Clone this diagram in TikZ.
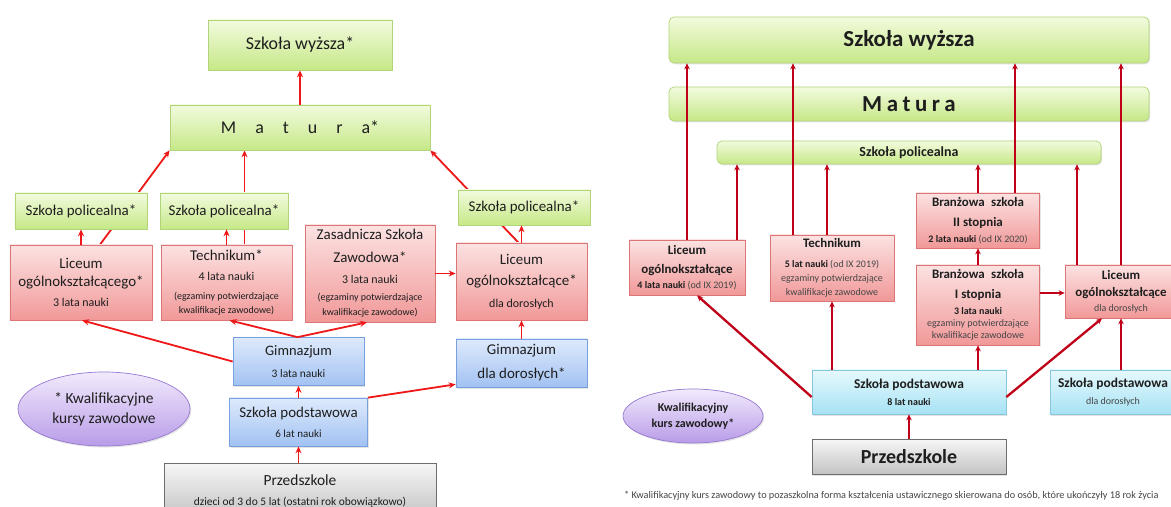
\documentclass[tikz,border=0pt]{standalone}
\usepackage{fontspec}
\setmainfont{Carlito}
\usetikzlibrary{arrows.meta,shapes.geometric,backgrounds,shadows}
\definecolor{txt}{RGB}{30,30,30}
\definecolor{sub}{RGB}{70,70,70}
\definecolor{gT}{RGB}{242,251,222}
\definecolor{gB}{RGB}{198,232,135}
\definecolor{gD}{RGB}{178,212,120}
\definecolor{pT}{RGB}{252,226,226}
\definecolor{pB}{RGB}{241,152,152}
\definecolor{pD}{RGB}{220,118,118}
\definecolor{bT}{RGB}{222,234,252}
\definecolor{bB}{RGB}{162,194,242}
\definecolor{bD}{RGB}{120,160,222}
\definecolor{cT}{RGB}{230,249,253}
\definecolor{cB}{RGB}{166,226,244}
\definecolor{cD}{RGB}{136,198,222}
\definecolor{yT}{RGB}{246,246,246}
\definecolor{yB}{RGB}{194,194,194}
\definecolor{yD}{RGB}{110,110,110}
\definecolor{vT}{RGB}{242,234,252}
\definecolor{vB}{RGB}{184,156,232}
\definecolor{vD}{RGB}{150,120,210}
\definecolor{lred}{RGB}{238,24,24}
\definecolor{rred}{RGB}{192,0,24}
\newcommand\mylsp{\hspace{19bp}}
\newcommand\myrsp{\hspace{4.5bp}}
\newcommand\fz[2]{\fontsize{#1}{#2}\selectfont}
\begin{document}
\begin{tikzpicture}[x=1bp,y=-1bp,
  bx/.style={draw, rectangle, inner sep=1bp, align=center, text=txt, line width=0.7bp,
    drop shadow={opacity=0.22,shadow xshift=1.2bp,shadow yshift=-1.5bp}},
  lg/.style={bx, draw=gD, top color=gT, bottom color=gB},
  rg/.style={lg, rounded corners=5bp},
  pk/.style={bx, draw=pD, top color=pT, bottom color=pB},
  bl/.style={bx, draw=bD, top color=bT, bottom color=bB},
  cy/.style={bx, draw=cD, top color=cT, bottom color=cB},
  gy/.style={bx, draw=yD, top color=yT, bottom color=yB},
  el/.style={ellipse, draw=vD, top color=vT, bottom color=vB, inner sep=0, align=center,
    text=txt, line width=0.7bp, drop shadow={opacity=0.22,shadow xshift=1.2bp,shadow yshift=-1.5bp}},
  la/.style={draw=lred, line width=1.8bp, -{Stealth[length=7bp,width=6bp]}},
  ra/.style={draw=rred, line width=2.3bp, -{Stealth[length=6bp,width=5.5bp]}},
]
\useasboundingbox (0,0) rectangle (1171,507);
% ---------------- LEFT ----------------
\node[lg, font=\fz{18}{20}, minimum width=184bp, minimum height=50bp] (lwy) at (300,45) {Szkoła wyższa*};
\node[lg, font=\fz{18}{20}, minimum width=260bp, minimum height=45bp] (lmat) at (300,127.5) {M\mylsp a\mylsp t\mylsp u\mylsp r\mylsp a*};
\node[lg, font=\fz{15}{18}, minimum width=132bp, minimum height=36bp] (lpol1) at (81,211) {Szkoła policealna*};
\node[lg, font=\fz{15}{18}, minimum width=128bp, minimum height=36bp] (lpol2) at (224,211) {Szkoła policealna*};
\node[lg, font=\fz{15}{18}, minimum width=132bp, minimum height=35bp] (lpol3) at (524,207.5) {Szkoła policealna*};
\node[pk, font=\fz{15}{21}, minimum width=142bp, minimum height=75bp] (llic) at (81,282.5) {Liceum\\[-3bp]ogólnokształcącego*\\[-1bp]{\fz{12}{12}3 lata nauki}};
\node[pk, font=\fz{15}{20}, minimum width=131bp, minimum height=75bp] (ltech) at (226.5,282.5) {Technikum*\\{\fz{12}{12}4 lata nauki}\\[-1bp]{\fz{10}{10}(egzaminy potwierdzające}\\[-6bp]{\fz{10}{10}kwalifikacje zawodowe)}};
\node[pk, font=\fz{15}{21}, minimum width=130bp, minimum height=97bp] (lzsz) at (370,273.5) {Zasadnicza Szkoła\\[2bp]Zawodowa*\\{\fz{12}{12}3 lata nauki}\\[-4bp]{\fz{10}{10}(egzaminy potwierdzające}\\[-6bp]{\fz{10}{10}kwalifikacje zawodowe)}};
\node[pk, font=\fz{15}{21}, minimum width=131bp, minimum height=77bp] (llicd) at (521.5,281.5) {Liceum\\ogólnokształcące*\\[1bp]{\fz{12}{12}dla dorosłych}};
\node[bl, font=\fz{14.5}{22}, minimum width=131bp, minimum height=48bp] (lgim) at (298.5,361.5) {Gimnazjum\\{\fz{11.5}{12}3 lata nauki}};
\node[bl, font=\fz{15}{24}, minimum width=131bp, minimum height=48bp] (lgimd) at (521.5,363) {Gimnazjum\\dla dorosłych*};
\node[bl, font=\fz{15}{20}, minimum width=138bp, minimum height=48bp] (lpod) at (298.5,422) {Szkoła podstawowa\\{\fz{11}{12}6 lat nauki}};
\node[gy, font=\fz{15.5}{20}, minimum width=272bp, minimum height=56bp] (lprz) at (300,491) {Przedszkole\\{\fz{11.5}{12}dzieci od 3 do 5 lat (ostatni rok obowiązkowo)}};
\node[el, font=\fz{15.5}{20}, minimum width=172bp, minimum height=74bp] (lell) at (104,409) {* Kwalifikacyjne\\kursy zawodowe};
% left arrows
\draw[la] (lmat.north) -- (lwy.south);
\draw[la] (llic.north) -- (llic.north |- lpol1.south);
\draw[la] (ltech.north) -- (ltech.north |- lpol2.south);
\draw[la] (llicd.north) -- (llicd.north |- lpol3.south);
\coordinate (lz1) at (lzsz.east);
\draw[la] (lz1) -- (lz1 -| llicd.west);
\draw[la] (lgim.west) -- ([xshift=1bp]llic.south);
\draw[la] ([xshift=-1bp]lgim.north) -- ([xshift=3bp]ltech.south);
\draw[la] ([xshift=-1bp]lgim.north) -- ([xshift=-3bp]lzsz.south);
\draw[la] (lgimd.north) -- (llicd.south);
\draw[la] (lpod.north) -- (lgim.south);
\draw[la] (lpod.north east) -- ([yshift=3bp]lgimd.south west);
\draw[la] (lprz.north -| lpod.south) -- (lpod.south);
% ---------------- RIGHT ----------------
\node[rg, font=\bfseries\fz{23}{24}, minimum width=480bp, minimum height=46bp] (rwy) at (909,40) {Szkoła wyższa};
\node[rg, font=\bfseries\fz{23}{24}, minimum width=480bp, minimum height=34bp] (rmat) at (909,104) {M\myrsp a\myrsp t\myrsp u\myrsp r\myrsp a};
\node[rg, font=\bfseries\fz{14}{15}, minimum width=384bp, minimum height=23bp] (rpol) at (909,152.5) {Szkoła policealna};
\node[pk, font=\bfseries\fz{13}{19}, minimum width=116bp, minimum height=55bp] (rlic) at (687,267.5) {Liceum\\ogólnokształcące\\[-4bp]{\fz{10}{10}4 lata nauki {\mdseries\color{sub}(od IX 2019)}}};
\node[pk, font=\bfseries\fz{13}{20}, minimum width=124bp, minimum height=66bp] (rtech) at (832,268) {Technikum\\{\fz{10}{10}5 lat nauki {\mdseries\color{sub}(od IX 2019)}}\\[-6bp]{\mdseries\color{sub}\fz{10}{10}egzaminy potwierdzające}\\[-6bp]{\mdseries\color{sub}\fz{10}{10}kwalifikacje zawodowe}};
\node[pk, font=\bfseries\fz{13}{20}, minimum width=123bp, minimum height=55bp] (rb2) at (978,220.5) {Branżowa\hspace{0.5em}szkoła\\II stopnia\\[-4bp]{\fz{10}{10}2 lata nauki {\mdseries\color{sub}(od IX 2020)}}};
\node[pk, font=\bfseries\fz{13}{20}, minimum width=123bp, minimum height=80bp] (rb1) at (978,305) {Branżowa\hspace{0.5em}szkoła\\I stopnia\\[-4bp]{\fz{10}{10}3 lata nauki}\\[-8bp]{\mdseries\color{sub}\fz{10}{10}egzaminy potwierdzające}\\[-8bp]{\mdseries\color{sub}\fz{10}{10}kwalifikacje zawodowe}};
\node[pk, font=\bfseries\fz{13}{20}, minimum width=112bp, minimum height=53bp] (rlicd) at (1121,291.5) {Liceum\\[-3bp]ogólnokształcące\\[-5bp]{\mdseries\color{sub}\fz{10}{10}dla dorosłych}};
\node[cy, font=\bfseries\fz{13.5}{20}, minimum width=194bp, minimum height=44bp] (rpod) at (909,392) {Szkoła podstawowa\\[-3bp]{\fz{10}{10}8 lat nauki}};
\node[cy, font=\bfseries\fz{13.5}{20}, minimum width=126bp, minimum height=44bp] (rpodd) at (1113,392) {Szkoła podstawowa\\[-3bp]{\mdseries\color{sub}\fz{10}{10}dla dorosłych}};
\node[gy, font=\bfseries\fz{20}{22}, minimum width=194bp, minimum height=35bp] (rprz) at (909,457) {Przedszkole};
\node[el, font=\bfseries\fz{12}{16}, minimum width=140bp, minimum height=54bp] (rell) at (693,416) {Kwalifikacyjny\\kurs zawodowy*};
\node[anchor=west, inner sep=0, text=sub, font=\fz{10.3}{11}] (fn) at (624,496) {* Kwalifikacyjny kurs zawodowy to pozaszkolna forma kształcenia ustawicznego skierowana do osób, które ukończyły 18 rok życia};
% right arrows
\draw[ra] (rlic.north) -- (rlic.north |- rwy.south);
\coordinate (r1) at ([xshift=50bp]rlic.north);
\draw[ra] (r1) -- (r1 |- rpol.south);
\coordinate (r2) at ([xshift=-39bp]rtech.north);
\draw[ra] (r2) -- (r2 |- rwy.south);
\coordinate (r3) at ([xshift=-5bp]rtech.north);
\draw[ra] (r3) -- (r3 |- rpol.south);
\draw[ra] (rb2.north) -- (rb2.north |- rpol.south);
\coordinate (r4) at ([xshift=37bp]rb2.north);
\draw[ra] (r4) -- (r4 |- rwy.south);
\draw[ra] (rlicd.north) -- (rlicd.north |- rwy.south);
\coordinate (r5) at ([xshift=-44bp]rlicd.north);
\draw[ra] (r5) -- (r5 |- rpol.south);
\draw[ra] (rb1.north) -- (rb2.south);
\coordinate (r6) at ([yshift=12bp]rb1.east);
\draw[ra] (r6) -- (r6 -| rlicd.west);
\draw[ra] ([yshift=-5bp]rpod.west) -- ([xshift=10bp]rlic.south);
\draw[ra] (rpod.north -| rtech.south) -- (rtech.south);
\draw[ra] (rpod.north -| rb1.south) -- (rb1.south);
\draw[ra] ([yshift=-5bp]rpod.east) -- ([xshift=-19bp]rlicd.south);
\draw[ra] (rpodd.north -| rlicd.south) -- (rlicd.south);
\draw[ra] (rprz.north) -- (rpod.south);
% lines passing behind boxes
\begin{scope}[on background layer]
\fill[white] (0,0) rectangle (1171,507);
\draw[la] ([xshift=19bp]llic.north) -- (lmat.south west);
\coordinate (l1) at ([xshift=18bp]ltech.north);
\draw[la] (l1) -- (l1 |- lmat.south);
\draw[la] ([xshift=-3bp]llicd.north) -- (lmat.south east);
\end{scope}
\end{tikzpicture}
\end{document}
